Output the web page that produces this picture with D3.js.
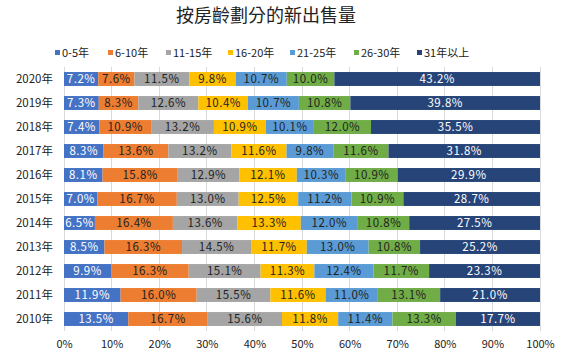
<!DOCTYPE html>
<html><head><meta charset="utf-8">
<script src="https://cdn.jsdelivr.net/npm/d3@7"></script>
<style>
body{margin:0;background:#fff;}
text{font-family:"Noto Sans CJK TC","Noto Sans CJK SC",sans-serif;}
</style></head>
<body><svg id="c" width="573" height="355"></svg>
<script>
const years = ["2020年","2019年","2018年","2017年","2016年","2015年","2014年","2013年","2012年","2011年","2010年"];
const seriesNames = ["0-5年","6-10年","11-15年","16-20年","21-25年","26-30年","31年以上"];
const s0_5   = [7.2,7.3,7.4,8.3,8.1,7.0,6.5,8.5,9.9,11.9,13.5];
const s6_10  = [7.6,8.3,10.9,13.6,15.8,16.7,16.4,16.3,16.3,16.0,16.7];
const s11_15 = [11.5,12.6,13.2,13.2,12.9,13.0,13.6,14.5,15.1,15.5,15.6];
const s16_20 = [9.8,10.4,10.9,11.6,12.1,12.5,13.3,11.7,11.3,11.6,11.8];
const s21_25 = [10.7,10.7,10.1,9.8,10.3,11.2,12.0,13.0,12.4,11.0,11.4];
const s26_30 = [10.0,10.8,12.0,11.6,10.9,10.9,10.8,10.8,11.7,13.1,13.3];
const s31up  = [43.2,39.8,35.5,31.8,29.9,28.7,27.5,25.2,23.3,21.0,17.7];
const tickLabels = ["0%","10%","20%","30%","40%","50%","60%","70%","80%","90%","100%"];
const colors = ["#4472C4","#ED7D31","#A5A5A5","#FFC000","#5B9BD5","#70AD47","#264478"];
const labelColors = ["#fff","#222","#222","#222","#222","#222","#fff"];

const seriesVals = [s0_5,s6_10,s11_15,s16_20,s21_25,s26_30,s31up];
const rows = years.map((y,i)=>{const o={year:y}; seriesNames.forEach((n,k)=>o[n]=seriesVals[k][i]); return o;});
const stack = d3.stack().keys(seriesNames).offset(d3.stackOffsetExpand);
const stacked = stack(rows);

const svg = d3.select("#c");
const x = d3.scaleLinear().domain([0,1]).range([64,540]);
const y = d3.scaleBand().domain(years).range([67,331]).paddingInner(0.42).paddingOuter(0.21);

svg.append("text").attr("x",266).attr("y",22).attr("text-anchor","middle")
  .attr("font-size",18).attr("fill","#222").text("按房齡劃分的新出售量");

// gridlines
svg.append("g").selectAll("line").data(d3.range(0,11)).join("line")
  .attr("x1",d=>x(d/10)).attr("x2",d=>x(d/10)).attr("y1",67).attr("y2",331)
  .attr("stroke","#d9d9d9").attr("stroke-width",1).attr("shape-rendering","crispEdges");

// bars
const g = svg.append("g");
stacked.forEach((layer,k)=>{
  const lg = g.append("g");
  lg.selectAll("rect").data(layer).join("rect")
    .attr("x",d=>x(d[0])).attr("width",d=>x(d[1])-x(d[0]))
    .attr("y",d=>y(d.data.year)).attr("height",y.bandwidth())
    .attr("fill",colors[k]);
  lg.selectAll("text").data(layer).join("text")
    .attr("x",d=>(x(d[0])+x(d[1]))/2).attr("y",d=>y(d.data.year)+y.bandwidth()/2+4)
    .attr("text-anchor","middle").attr("font-size",11.5).attr("letter-spacing",0.5).attr("fill",labelColors[k])
    .text(d=>d.data[layer.key].toFixed(1)+"%");
});

// y axis labels
svg.append("g").selectAll("text").data(years).join("text")
  .attr("x",53).attr("y",d=>y(d)+y.bandwidth()/2+4).attr("text-anchor","end")
  .attr("font-size",11.5).attr("fill","#222").text(d=>d);

// x axis
const xAxis = d3.axisBottom(x).tickValues(d3.range(0,11).map(d=>d/10)).tickFormat((d,i)=>tickLabels[i]).tickSize(0);
const ax = svg.append("g").attr("transform","translate(0,337)").call(xAxis);
ax.select(".domain").remove();
ax.selectAll("text").attr("font-size",11).attr("fill","#222").attr("font-family","\"Noto Sans CJK TC\",sans-serif");

// legend
const legX = [55,108,166,228,290,354,417];
const lg = svg.append("g");
seriesNames.forEach((n,k)=>{
  lg.append("rect").attr("x",legX[k]).attr("y",50).attr("width",5).attr("height",5).attr("fill",colors[k]);
  lg.append("text").attr("x",legX[k]+7).attr("y",57).attr("font-size",11).attr("fill","#222").text(n);
});
</script></body></html>
